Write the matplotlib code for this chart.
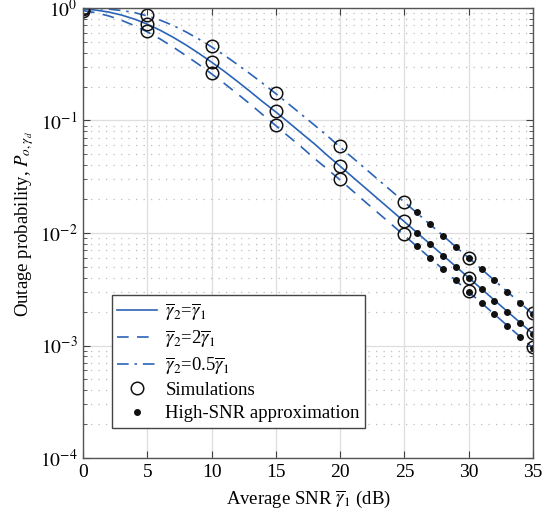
import numpy as np
import matplotlib
matplotlib.use("Agg")
import matplotlib.pyplot as plt
from matplotlib.ticker import LogLocator, NullFormatter, FixedLocator

plt.rcParams['font.family'] = ['Liberation Serif', 'DejaVu Serif']
plt.rcParams['mathtext.fontset'] = 'stix'

# --- analytical curves ---
snr_curve = [0, 1, 2, 3, 4, 5, 6, 7, 8, 9, 10, 11, 12, 13, 14, 15, 16, 17, 18, 19, 20, 22, 25, 30, 35]
p_equal = [0.98, 0.958, 0.92, 0.865, 0.797, 0.718, 0.634, 0.55, 0.47, 0.396, 0.33, 0.273, 0.223,
           0.181, 0.146, 0.119, 0.096, 0.077, 0.062, 0.049, 0.0392, 0.0249, 0.0126, 0.0040, 0.00127]
p_double = [0.95, 0.907, 0.85, 0.777, 0.697, 0.613, 0.53, 0.45, 0.378, 0.315, 0.26, 0.213, 0.173,
            0.14, 0.112, 0.09, 0.072, 0.058, 0.046, 0.037, 0.0296, 0.0187, 0.0095, 0.0030, 0.00095]
p_half = [0.998, 0.991, 0.977, 0.95, 0.91, 0.85, 0.78, 0.70, 0.614, 0.53, 0.451, 0.38, 0.315,
          0.26, 0.213, 0.173, 0.14, 0.113, 0.091, 0.073, 0.058, 0.037, 0.0188, 0.0060, 0.0019]

# --- simulations ---
snr_sim = [0, 5, 10, 15, 20, 25, 30, 35]
sim_equal = [0.98, 0.72, 0.33, 0.121, 0.0394, 0.0128, 0.0040, 0.00129]
sim_double = [0.95, 0.625, 0.264, 0.091, 0.030, 0.0098, 0.00305, 0.00096]
sim_half = [0.998, 0.867, 0.46, 0.174, 0.059, 0.0189, 0.0060, 0.00195]

# --- high-SNR approximation ---
snr_hi = [26, 27, 28, 29, 30, 31, 32, 33, 34, 35]
hi_equal = [0.0101, 0.0080, 0.0063, 0.0050, 0.0040, 0.0032, 0.0025, 0.0020, 0.0016, 0.00127]
hi_double = [0.0076, 0.0060, 0.0048, 0.0038, 0.0030, 0.0024, 0.0019, 0.0015, 0.0012, 0.00095]
hi_half = [0.0153, 0.0120, 0.0095, 0.0075, 0.0060, 0.0048, 0.0038, 0.0030, 0.0024, 0.0019]

xticks = [0, 5, 10, 15, 20, 25, 30, 35]
yticks = [1e-4, 1e-3, 1e-2, 1e-1, 1e0]

blue = '#2b63b6'

fig = plt.figure(figsize=(5.48, 5.16), dpi=100)
ax = fig.add_axes([0.1515, 0.1124, 0.8211, 0.8721])

l1, = ax.semilogy(snr_curve, p_equal, '-', color=blue, lw=1.2)
l2, = ax.semilogy(snr_curve, p_double, color=blue, lw=1.2, linestyle=(0, (7, 5)))
l3, = ax.semilogy(snr_curve, p_half, color=blue, lw=1.2, linestyle=(0, (7, 3.5, 1.5, 3.5)))

for s in (sim_equal, sim_double, sim_half):
    h_sim, = ax.semilogy(snr_sim, s, 'o', mfc='none', mec='#111111', ms=9, mew=1.1, ls='none')
for s in (hi_equal, hi_double, hi_half):
    h_hi, = ax.semilogy(snr_hi, s, 'o', color='#111111', ms=4, ls='none')

ax.set_xlim(0, 35)
ax.set_ylim(1e-4, 1)
ax.set_xticks(xticks)
ax.yaxis.set_major_locator(FixedLocator(yticks))
ax.yaxis.set_minor_locator(LogLocator(base=10, subs=np.arange(2, 10)))
ax.yaxis.set_minor_formatter(NullFormatter())
ax.set_yticklabels([r'$10^{-4}$', r'$10^{-3}$', r'$10^{-2}$', r'$10^{-1}$', r'$10^{0}$'])

ax.grid(True, which='major', color='#dedede', lw=0.9, ls='-')
ax.grid(True, which='minor', axis='y', color='#bdbdbd', lw=0.9, ls=(0, (1, 5)))
ax.set_axisbelow(True)

ax.tick_params(which='both', direction='in', top=True, right=True, color='#404040')
ax.tick_params(which='major', length=5, labelsize=14, pad=4)
ax.tick_params(which='minor', length=3)
for sp in ax.spines.values():
    sp.set_color('#555555')
    sp.set_linewidth(1.0)

ax.set_xlabel(r'Average SNR $\overline{\gamma}_1$ (dB)', fontsize=13.5, labelpad=6)
ax.set_ylabel(r'Outage probability, $P_{o,\gamma_d}$', fontsize=13.5)
ax.yaxis.set_label_coords(-0.105, 0.52)

leg = ax.legend([l1, l2, l3, h_sim, h_hi],
                [r'$\overline{\gamma}_2$=$\overline{\gamma}_1$',
                 r'$\overline{\gamma}_2$=2$\overline{\gamma}_1$',
                 r'$\overline{\gamma}_2$=0.5$\overline{\gamma}_1$',
                 'Simulations', 'High-SNR approximation'],
                loc='lower left', bbox_to_anchor=(0.064, 0.067), fontsize=13.5,
                frameon=True, fancybox=False, edgecolor='#444444', framealpha=1,
                handlelength=2.1, borderpad=0.3, labelspacing=0.33, handletextpad=0.45,
                borderaxespad=0)
leg.get_frame().set_linewidth(1.0)

fig.savefig('out.png', dpi=100)
